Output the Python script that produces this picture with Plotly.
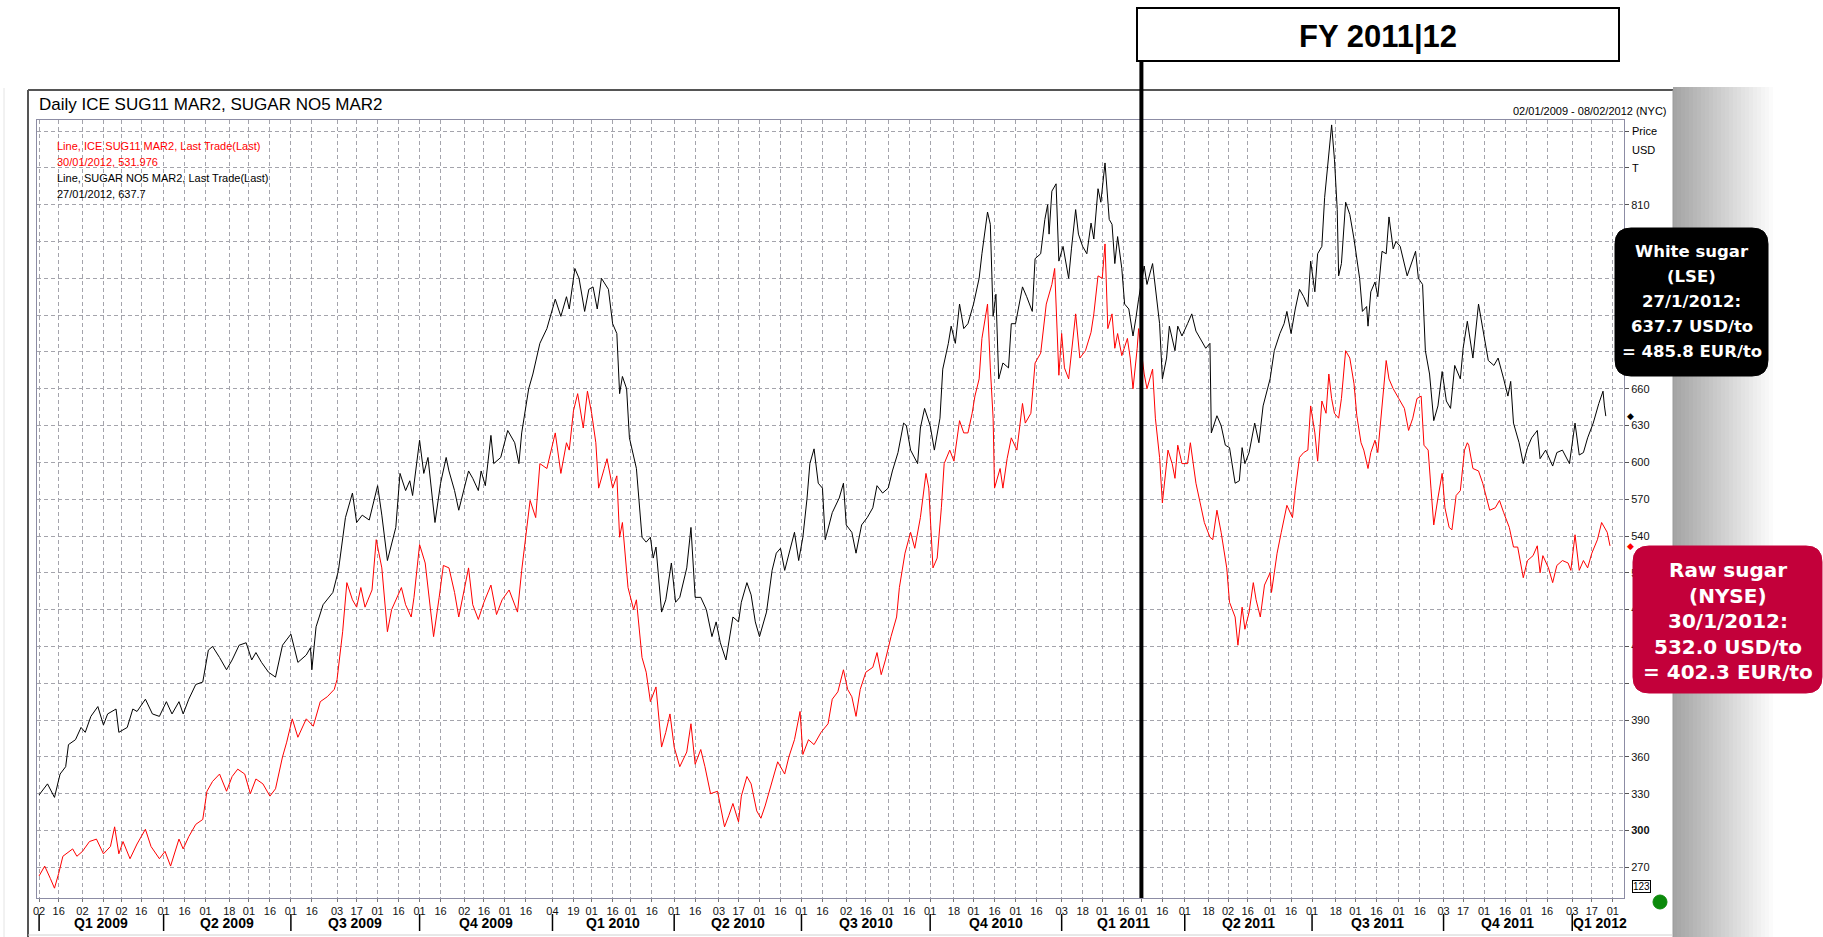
import pandas as pd
import plotly.graph_objects as go

# ---- data (days counted from 2009-01-01) ----
base = pd.Timestamp("2009-01-01")

white_day = [1, 7, 12, 16, 20, 22, 27, 31, 34, 38,
             43, 47, 50, 56, 58, 64, 68, 71, 77, 82,
             87, 92, 96, 101, 104, 108, 113, 118, 122, 125,
             130, 135, 139, 144, 149, 153, 156, 160, 165, 170,
             175, 181, 186, 192, 195, 196, 199, 204, 211, 215,
             220, 225, 228, 232, 237, 243, 246, 250, 256, 259,
             263, 266, 268, 273, 276, 279, 284, 288, 292, 294,
             298, 301, 308, 311, 315, 317, 320, 324, 326, 331,
             336, 341, 344, 346, 351, 354, 359, 364, 368, 370,
             374, 378, 380, 384, 387, 391, 394, 397, 400, 403,
             408, 411, 414, 416, 418, 421, 423, 426, 428, 432,
             435, 438, 440, 442, 446, 449, 453, 456, 459, 464,
             467, 470, 474, 478, 482, 485, 488, 492, 494, 497,
             501, 503, 507, 510, 513, 516, 521, 525, 528, 531,
             534, 537, 541, 544, 547, 550, 552, 555, 558, 561,
             563, 568, 573, 576, 578, 582, 585, 589, 593, 597,
             600, 604, 608, 611, 615, 619, 621, 624, 629, 631,
             634, 638, 641, 645, 647, 651, 653, 656, 659, 662,
             665, 669, 673, 675, 679, 681, 683, 685, 687, 690,
             694, 696, 699, 701, 704, 707, 711, 713, 717, 720,
             722, 723, 725, 728, 730, 733, 737, 739, 742, 744,
             747, 750, 753, 755, 758, 760, 763, 766, 768, 770,
             772, 775, 777, 780, 783, 785, 787, 791, 793, 797,
             799, 802, 804, 807, 809, 813, 815, 818, 822, 825,
             828, 831, 835, 838, 839, 843, 846, 849, 852, 856,
             859, 861, 863, 866, 870, 873, 876, 881, 884, 888,
             891, 893, 896, 899, 902, 905, 908, 910, 913, 915,
             918, 920, 923, 925, 927, 929, 930, 932, 935, 938,
             941, 945, 947, 950, 951, 953, 956, 958, 961, 964,
             966, 969, 971, 974, 979, 982, 985, 987, 990, 992,
             995, 998, 1001, 1004, 1007, 1010, 1013, 1017, 1019, 1022,
             1026, 1030, 1033, 1037, 1041, 1044, 1048, 1051, 1053, 1055,
             1059, 1062, 1065, 1068, 1072, 1074, 1078, 1083, 1086, 1090,
             1095, 1099, 1102, 1105, 1108, 1112, 1116, 1119, 1120, 1121]
white_usd = [329, 338, 327, 346, 352, 370, 374, 384, 380, 393,
             401, 386, 395, 399, 380, 384, 399, 397, 407, 395,
             393, 405, 395, 405, 395, 407, 419, 421, 447, 450,
             441, 431, 439, 451, 453, 439, 445, 437, 429, 425,
             451, 460, 437, 443, 449, 431, 466, 484, 494, 512,
             555, 575, 551, 557, 553, 581, 557, 520, 547, 591,
             577, 585, 573, 618, 591, 604, 551, 583, 604, 593,
             577, 561, 593, 587, 577, 593, 581, 622, 599, 604,
             626, 616, 599, 624, 660, 672, 697, 709, 725, 733,
             719, 735, 725, 758, 750, 723, 741, 743, 725, 750,
             741, 713, 705, 656, 670, 660, 620, 604, 595, 539,
             535, 539, 522, 531, 478, 488, 518, 486, 490, 514,
             547, 490, 490, 480, 458, 470, 453, 439, 453, 474,
             470, 486, 502, 492, 470, 458, 478, 512, 526, 530,
             512, 526, 543, 520, 539, 571, 599, 611, 583, 579,
             537, 559, 571, 583, 549, 543, 526, 549, 555, 563,
             581, 575, 579, 593, 608, 632, 630, 610, 599, 628,
             644, 630, 610, 636, 676, 697, 711, 697, 729, 709,
             713, 729, 750, 770, 804, 794, 719, 737, 668, 681,
             677, 713, 713, 725, 743, 735, 723, 766, 770, 798,
             810, 786, 821, 827, 764, 776, 750, 774, 806, 786,
             776, 770, 795, 782, 823, 812, 844, 798, 794, 762,
             784, 758, 729, 725, 703, 717, 733, 760, 745, 762,
             741, 713, 668, 685, 711, 691, 711, 703, 713, 721,
             707, 701, 693, 697, 624, 638, 630, 614, 612, 583,
             585, 612, 599, 608, 632, 616, 646, 668, 691, 705,
             713, 723, 705, 725, 741, 735, 727, 764, 739, 770,
             776, 816, 855, 875, 847, 806, 752, 762, 812, 802,
             782, 750, 723, 727, 711, 739, 747, 735, 772, 770,
             800, 774, 780, 776, 752, 762, 772, 750, 745, 691,
             672, 634, 646, 674, 650, 644, 679, 668, 693, 715,
             685, 729, 709, 683, 679, 685, 668, 654, 666, 632,
             616, 599, 612, 620, 626, 603, 610, 597, 608, 610,
             599, 632, 606, 608, 620, 632, 648, 658, 646, 637.7]

raw_day = [1, 5, 9, 12, 15, 18, 25, 28, 32, 37,
           42, 47, 52, 55, 58, 61, 66, 71, 77, 81,
           87, 91, 95, 101, 104, 108, 113, 118, 121, 125,
           130, 135, 139, 143, 148, 152, 156, 161, 166, 170,
           175, 178, 182, 186, 192, 197, 202, 207, 212, 214,
           218, 221, 225, 228, 231, 234, 239, 242, 246, 250,
           253, 260, 263, 267, 269, 273, 277, 283, 287, 290,
           294, 298, 301, 308, 311, 315, 319, 324, 328, 332,
           337, 343, 346, 349, 352, 356, 359, 364, 370, 374,
           378, 380, 383, 386, 390, 393, 396, 399, 401, 405,
           407, 411, 414, 416, 418, 422, 426, 428, 432, 435,
           438, 442, 446, 449, 452, 455, 459, 464, 467, 470,
           474, 477, 481, 486, 491, 494, 497, 501, 503, 507,
           510, 514, 517, 520, 524, 529, 534, 537, 541, 545,
           547, 551, 555, 560, 565, 568, 572, 576, 579, 582,
           585, 588, 592, 597, 600, 603, 606, 610, 614, 616,
           620, 624, 627, 631, 635, 637, 640, 643, 646, 648,
           652, 655, 659, 662, 665, 668, 670, 673, 675, 679,
           681, 683, 684, 688, 690, 693, 696, 700, 704, 706,
           710, 713, 717, 721, 725, 727, 730, 732, 734, 737,
           742, 745, 749, 753, 755, 758, 761, 763, 765, 768,
           770, 772, 775, 779, 781, 783, 786, 787, 791, 793,
           797, 799, 802, 804, 808, 811, 813, 815, 818, 822,
           824, 828, 831, 834, 838, 840, 843, 846, 850, 852,
           856, 858, 861, 863, 866, 869, 871, 874, 877, 881,
           882, 886, 889, 893, 897, 899, 902, 905, 908, 910,
           913, 915, 918, 921, 923, 925, 927, 930, 932, 935,
           938, 941, 943, 946, 948, 951, 953, 956, 958, 961,
           964, 966, 969, 973, 977, 980, 983, 986, 989, 991,
           994, 996, 998, 1001, 1004, 1006, 1009, 1011, 1014, 1017,
           1020, 1022, 1023, 1026, 1030, 1033, 1038, 1042, 1045, 1048,
           1052, 1055, 1058, 1062, 1065, 1069, 1072, 1074, 1076, 1080,
           1083, 1086, 1090, 1094, 1096, 1099, 1102, 1105, 1108, 1111,
           1115, 1118, 1121, 1122, 1124]
raw_usd = [263, 271, 261, 253, 265, 279, 285, 279, 283, 291,
           293, 281, 287, 303, 281, 291, 277, 289, 301, 287,
           277, 283, 271, 293, 285, 295, 305, 309, 332, 340,
           346, 332, 344, 350, 346, 330, 342, 338, 328, 334,
           360, 372, 391, 376, 391, 385, 405, 409, 415, 423,
           462, 502, 488, 482, 498, 482, 496, 537, 514, 462,
           480, 498, 484, 474, 490, 533, 518, 458, 490, 516,
           514, 494, 474, 514, 484, 472, 486, 500, 476, 488,
           496, 478, 512, 543, 569, 555, 599, 595, 624, 591,
           616, 610, 642, 656, 628, 658, 640, 616, 579, 595,
           603, 579, 589, 539, 551, 498, 480, 488, 441, 429,
           405, 417, 368, 380, 395, 368, 352, 364, 387, 354,
           366, 352, 330, 332, 303, 312, 322, 307, 328, 344,
           338, 316, 310, 320, 336, 356, 346, 360, 374, 397,
           362, 374, 370, 380, 387, 407, 413, 431, 415, 409,
           393, 415, 429, 433, 445, 427, 439, 458, 474, 498,
           526, 543, 530, 555, 591, 579, 514, 522, 563, 599,
           610, 601, 634, 624, 624, 640, 654, 668, 701, 729,
           677, 636, 579, 595, 579, 603, 620, 610, 648, 632,
           640, 681, 689, 729, 745, 758, 671, 705, 677, 668,
           721, 685, 691, 706, 721, 752, 750, 778, 709, 721,
           693, 705, 687, 701, 685, 660, 693, 709, 672, 660,
           676, 636, 604, 567, 610, 599, 587, 614, 599, 599,
           616, 583, 567, 551, 539, 537, 561, 543, 514, 486,
           474, 451, 482, 464, 478, 502, 488, 474, 500, 510,
           494, 526, 543, 565, 555, 577, 604, 608, 610, 646,
           624, 601, 650, 640, 672, 652, 640, 636, 652, 691,
           685, 664, 638, 616, 610, 595, 608, 618, 608, 648,
           683, 668, 660, 652, 644, 626, 636, 652, 654, 614,
           610, 579, 549, 571, 591, 563, 547, 545, 573, 577,
           610, 616, 614, 595, 593, 583, 561, 563, 569, 559,
           547, 531, 531, 506, 520, 524, 532, 510, 524, 514,
           502, 516, 520, 518, 512, 541, 512, 520, 514, 526,
           537, 551, 545, 543, 531.976]

tick_dates = ["2009-01-02", "2009-01-16", "2009-02-02", "2009-02-17", "2009-03-02", "2009-03-16",
              "2009-04-01", "2009-04-16", "2009-05-01", "2009-05-18", "2009-06-01", "2009-06-16",
              "2009-07-01", "2009-07-16", "2009-08-03", "2009-08-17", "2009-09-01", "2009-09-16",
              "2009-10-01", "2009-10-16", "2009-11-02", "2009-11-16", "2009-12-01", "2009-12-16",
              "2010-01-04", "2010-01-19", "2010-02-01", "2010-02-16", "2010-03-01", "2010-03-16",
              "2010-04-01", "2010-04-16", "2010-05-03", "2010-05-17", "2010-06-01", "2010-06-16",
              "2010-07-01", "2010-07-16", "2010-08-02", "2010-08-16", "2010-09-01", "2010-09-16",
              "2010-10-01", "2010-10-18", "2010-11-01", "2010-11-16", "2010-12-01", "2010-12-16",
              "2011-01-03", "2011-01-18", "2011-02-01", "2011-02-16", "2011-03-01", "2011-03-16",
              "2011-04-01", "2011-04-18", "2011-05-02", "2011-05-16", "2011-06-01", "2011-06-16",
              "2011-07-01", "2011-07-18", "2011-08-01", "2011-08-16", "2011-09-01", "2011-09-16",
              "2011-10-03", "2011-10-17", "2011-11-01", "2011-11-16", "2011-12-01", "2011-12-16",
              "2012-01-03", "2012-01-17", "2012-02-01"]
tick_text = [d[-2:] for d in tick_dates]

quarter_names = ["Q1 2009", "Q2 2009", "Q3 2009", "Q4 2009", "Q1 2010", "Q2 2010", "Q3 2010",
                 "Q4 2010", "Q1 2011", "Q2 2011", "Q3 2011", "Q4 2011", "Q1 2012"]
quarter_starts = ["2009-01-02", "2009-04-01", "2009-07-01", "2009-10-01", "2010-01-04",
                  "2010-04-01", "2010-07-01", "2010-10-01", "2011-01-03", "2011-04-01",
                  "2011-07-01", "2011-10-03", "2012-01-03"]

price_ticks = [270, 300, 330, 360, 390, 420, 450, 480, 510, 540, 570, 600, 630, 660,
               690, 720, 750, 780, 810, 840, 870]
hidden_ticks = [420, 690, 720, 750, 780, 840, 870]   # covered by the call-outs / axis caption
fy_start = "2011-03-01"

white_x = [base + pd.Timedelta(days=d) for d in white_day]
raw_x = [base + pd.Timedelta(days=d) for d in raw_day]

# ---- pixel helpers for the decorations ----
W, H = 1823, 937
PL, PR, PT, PB = 37, 1624, 120, 898


def fx(p):
    return (p - PL) / (PR - PL)


def fy(p):
    return (PB - p) / (PB - PT)


def rrect(x0, y0, x1, y1, r):
    return (f"M {fx(x0 + r)},{fy(y0)} L {fx(x1 - r)},{fy(y0)} "
            f"Q {fx(x1)},{fy(y0)} {fx(x1)},{fy(y0 + r)} L {fx(x1)},{fy(y1 - r)} "
            f"Q {fx(x1)},{fy(y1)} {fx(x1 - r)},{fy(y1)} L {fx(x0 + r)},{fy(y1)} "
            f"Q {fx(x0)},{fy(y1)} {fx(x0)},{fy(y1 - r)} L {fx(x0)},{fy(y0 + r)} "
            f"Q {fx(x0)},{fy(y0)} {fx(x0 + r)},{fy(y0)} Z")


SANS = "Liberation Sans, Arial, sans-serif"
BOXF = "DejaVu Sans, Verdana, sans-serif"

fig = go.Figure()
fig.add_trace(go.Scatter(x=raw_x, y=raw_usd, mode="lines",
                         line=dict(color="#ff0000", width=1), name="ICE SUG11 MAR2"))
fig.add_trace(go.Scatter(x=white_x, y=white_usd, mode="lines",
                         line=dict(color="#000000", width=1), name="SUGAR NO5 MAR2"))

shapes = []
# grey shadow strip on the right of the panel
for i in range(26):
    g = int(165 + (255 - 165) * i / 25)
    shapes.append(dict(type="rect", xref="paper", yref="paper",
                       x0=fx(1673 + i * 4), x1=fx(1677 + i * 4), y0=fy(937), y1=fy(87),
                       fillcolor=f"rgb({g},{g},{g})", line=dict(width=0), layer="above"))
# panel frame
shapes += [
    dict(type="line", xref="paper", yref="paper", x0=fx(28), x1=fx(1673), y0=fy(90), y1=fy(90),
         line=dict(color="#555555", width=2), layer="above"),
    dict(type="line", xref="paper", yref="paper", x0=fx(28), x1=fx(28), y0=fy(90), y1=fy(937),
         line=dict(color="#555555", width=2), layer="above"),
    dict(type="line", xref="paper", yref="paper", x0=fx(1673), x1=fx(1673), y0=fy(90), y1=fy(937),
         line=dict(color="#9a9a9a", width=1), layer="above"),
    dict(type="line", xref="paper", yref="paper", x0=fx(28), x1=fx(1673), y0=fy(935), y1=fy(935),
         line=dict(color="#d0d0d0", width=1), layer="above"),
    dict(type="line", xref="paper", yref="paper", x0=fx(4), x1=fx(4), y0=fy(88), y1=fy(937),
         line=dict(color="#e4e4e4", width=1), layer="above"),
]
# quarter separators
for q in quarter_starts:
    shapes.append(dict(type="line", xref="x", yref="paper", x0=q, x1=q, y0=fy(914), y1=fy(931),
                       line=dict(color="#000000", width=1.5)))
# FY marker line and box
shapes.append(dict(type="line", xref="x", yref="paper", x0=fy_start, x1=fy_start,
                   y0=0, y1=fy(61), line=dict(color="#000000", width=4), layer="above"))
shapes.append(dict(type="rect", xref="paper", yref="paper", x0=fx(1137), x1=fx(1619),
                   y0=fy(61), y1=fy(8), fillcolor="#ffffff",
                   line=dict(color="#000000", width=2), layer="above"))
# price call-out boxes
shapes.append(dict(type="path", xref="paper", yref="paper", path=rrect(1615, 228, 1768, 376, 16),
                   fillcolor="#000000", line=dict(color="#000000", width=1), layer="above"))
shapes.append(dict(type="path", xref="paper", yref="paper", path=rrect(1633, 546, 1822, 693, 16),
                   fillcolor="#c3003a", line=dict(color="#c3003a", width=1), layer="above"))
# status dot
shapes.append(dict(type="circle", xref="paper", yref="paper", x0=fx(1653), x1=fx(1667),
                   y0=fy(909), y1=fy(895), fillcolor="#0b8a0b", line=dict(color="#0b8a0b", width=1)))

ann = []


def txt(x, y, s, size=11, color="#000000", family=SANS, xanchor="left", yanchor="middle", **kw):
    ann.append(dict(x=fx(x), y=fy(y), xref="paper", yref="paper", text=s, showarrow=False,
                    xanchor=xanchor, yanchor=yanchor,
                    font=dict(size=size, color=color, family=family), **kw))


txt(37, 105, "Daily ICE SUG11 MAR2, SUGAR NO5 MAR2", size=17)
txt(1669, 111, "02/01/2009 - 08/02/2012 (NYC)", size=11, xanchor="right")
txt(55, 146, "Line, ICE SUG11 MAR2, Last Trade(Last)", color="#ff0000")
txt(55, 162, "30/01/2012, 531.976", color="#ff0000")
txt(55, 178, "Line, SUGAR NO5 MAR2, Last Trade(Last)")
txt(55, 194, "27/01/2012, 637.7")
txt(1630, 131, "Price", size=11)
txt(1630, 150, "USD", size=11)
txt(1630, 168, "T", size=11)
txt(1378, 36, "<b>FY 2011|12</b>", size=31, xanchor="center")

white_lines = ["White sugar", "(LSE)", "27/1/2012:", "637.7 USD/to", "= 485.8 EUR/to"]
raw_lines = ["Raw sugar", "(NYSE)", "30/1/2012:", "532.0 USD/to", "= 402.3 EUR/to"]
for i, s in enumerate(white_lines):
    txt(1692, 251 + 25 * i, "<b>" + s + "</b>", size=16.5, color="#ffffff", family=BOXF, xanchor="center")
for i, s in enumerate(raw_lines):
    txt(1728, 570 + 25.5 * i, "<b>" + s + "</b>", size=20, color="#ffffff", family=BOXF, xanchor="center")

# quarter labels under the date ticks
qs = [pd.Timestamp(q) for q in quarter_starts]
for i, name in enumerate(quarter_names):
    if i + 1 < len(qs):
        mid = qs[i] + (qs[i + 1] - qs[i]) / 2
        ann.append(dict(x=mid, y=fy(923), xref="x", yref="paper", text="<b>" + name + "</b>",
                        showarrow=False, xanchor="center", yanchor="middle",
                        font=dict(size=14, family=SANS, color="#000000")))
    else:
        ann.append(dict(x=qs[i], y=fy(923), xref="x", yref="paper", text="<b>" + name + "</b>",
                        showarrow=False, xanchor="left", yanchor="middle", xshift=-1,
                        font=dict(size=14, family=SANS, color="#000000")))

# last-price diamonds on the price axis
ann.append(dict(x=fx(1631), y=white_usd[-1], xref="paper", yref="y", text="◆", showarrow=False,
                xanchor="center", yanchor="middle", font=dict(size=9, color="#000000", family=SANS)))
ann.append(dict(x=fx(1631), y=raw_usd[-1], xref="paper", yref="y", text="◆", showarrow=False,
                xanchor="center", yanchor="middle", font=dict(size=9, color="#ff0000", family=SANS)))
# small "123" box
ann.append(dict(x=fx(1641), y=fy(886), xref="paper", yref="paper", text="123", showarrow=False,
                xanchor="center", yanchor="middle", bordercolor="#000000", borderwidth=1,
                borderpad=0, bgcolor="#ffffff", font=dict(size=10, color="#000000", family=SANS)))

price_text = []
for v in price_ticks:
    if v in hidden_ticks:
        price_text.append("")
    elif v == 300:
        price_text.append("<b>300</b>")
    else:
        price_text.append(str(v))

fig.update_layout(
    width=W, height=H,
    margin=dict(l=PL, r=W - PR, t=PT, b=H - PB),
    paper_bgcolor="#ffffff", plot_bgcolor="#ffffff",
    showlegend=False,
    shapes=shapes, annotations=ann,
    xaxis=dict(type="date", range=["2008-12-31 12:00", "2012-02-09"],
               tickmode="array", tickvals=tick_dates, ticktext=tick_text,
               tickfont=dict(size=11, family=SANS, color="#111111"),
               ticks="outside", ticklen=3, tickcolor="#777777",
               showgrid=True, gridcolor="#a4a4ac", griddash="4px,3px", gridwidth=1,
               showline=True, linecolor="#8c8ca4", linewidth=1, mirror=True, zeroline=False),
    yaxis=dict(side="right", range=[245, 879],
               tickmode="array", tickvals=price_ticks, ticktext=price_text,
               tickfont=dict(size=11, family=SANS, color="#111111"),
               ticks="outside", ticklen=4, tickcolor="#555555",
               showgrid=True, gridcolor="#a4a4ac", griddash="4px,3px", gridwidth=1,
               showline=True, linecolor="#8c8ca4", linewidth=1, mirror=True, zeroline=False),
)

fig.write_html("out.html", config={"displayModeBar": False},
               post_script="document.body.style.margin='0';document.body.style.overflow='hidden';")
